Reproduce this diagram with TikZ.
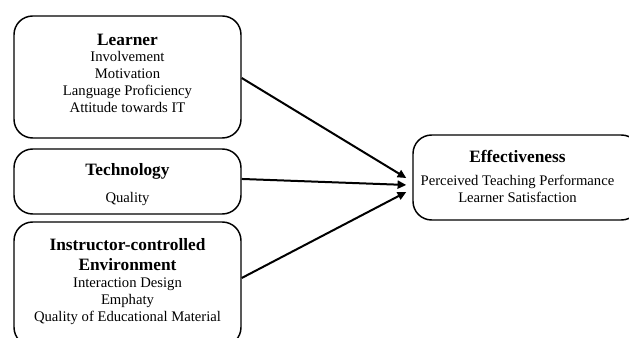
\documentclass[tikz,border=0pt]{standalone}
\usepackage{fontspec}
\setmainfont{Liberation Serif}
\usetikzlibrary{arrows.meta}
% stacked, centred lines whose reference point is the baseline of the first line
\newcommand{\lines}[1]{\setlength{\tabcolsep}{0pt}\begin{tabular}[t]{c}#1\end{tabular}}
\begin{document}
\begin{tikzpicture}[x=0.75pt,y=-0.75pt,
  box/.style={draw=black, line width=1.1pt, rounded corners=14pt, inner sep=0pt},
  title/.style={anchor=base, inner sep=0pt,
    font=\fontsize{13}{15}\selectfont\bfseries},
  body/.style={anchor=base, inner sep=0pt,
    font=\fontsize{11}{12.6}\selectfont},
  link/.style={line width=1.5pt, -{Triangle[length=6.5pt,width=6pt]}}]
\useasboundingbox (0,0) rectangle (629,338);
\clip (0,0) rectangle (629,338);

% factor boxes
\node[box, minimum width=170.25pt, minimum height=91.5pt]  (learner) at (127.5,77) {};
\node[box, minimum width=170.25pt, minimum height=48.75pt] (tech)    at (127.5,181.5) {};
\node[box, minimum width=170.25pt, minimum height=93pt]    (instr)   at (127.5,284) {};
% outcome box
\node[box, minimum width=170.25pt, minimum height=63.75pt] (eff)     at (526.5,177.5) {};

% texts
\node[title] (lt) at (127.5,46) {Learner};
\node[body]  (lb) at (127.5,62) {\lines{Involvement\\Motivation\\Language Proficiency\\Attitude towards IT}};

\node[title] (tt) at (127.5,176) {Technology};
\node[body]  (tb) at (127.5,203) {Quality};

\node[title] (it) at (127.5,251) {\lines{Instructor-controlled\\Environment}};
\node[body]  (ib) at (127.5,288) {\lines{Interaction Design\\Emphaty\\Quality of Educational Material}};

\node[title] (et) at (517.5,163) {Effectiveness};
\node[body]  (eb) at (517.5,186) {\lines{Perceived Teaching Performance\\Learner Satisfaction}};

% connectors
\coordinate (e1) at ([xshift=-4.5pt,yshift=-0.4pt]eff.west);
\coordinate (e2) at ([xshift=-4.5pt,yshift=-5.6pt]eff.west);
\coordinate (e3) at ([xshift=-4.5pt,yshift=-10.9pt]eff.west);
\draw[link] ([yshift=-0.75pt]learner.east) -- (e1);
\draw[link] ([yshift=1.9pt]tech.east) -- (e2);
\draw[link] ([yshift=4.5pt]instr.east) -- (e3);
\end{tikzpicture}
\end{document}
